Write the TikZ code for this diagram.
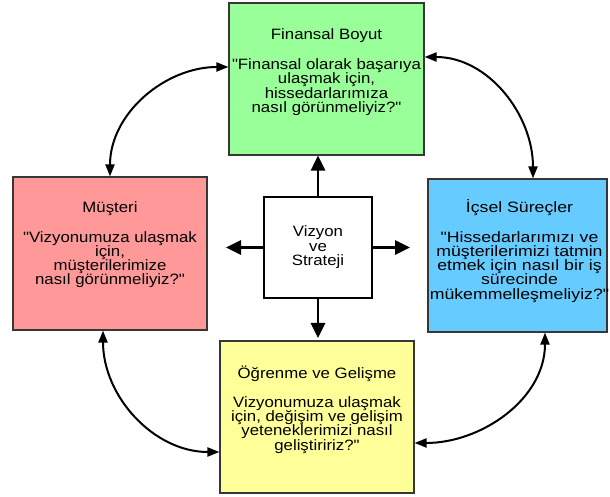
\documentclass[tikz,border=0pt]{standalone}
\usepackage{fontspec}
\setmainfont{Liberation Sans}[FakeStretch=1.12,Ligatures=TeXOff]
\newfontfamily\widefont{Liberation Sans}[FakeStretch=1.18,Ligatures=TeXOff]
\usetikzlibrary{arrows.meta,calc}
\definecolor{fingreen}{RGB}{153,255,153}
\definecolor{muspink}{RGB}{255,153,153}
\definecolor{icsblue}{RGB}{102,204,255}
\definecolor{ogryellow}{RGB}{255,255,153}
\definecolor{edgegray}{RGB}{55,55,55}
\newcommand{\tstrut}{\rule{0pt}{14pt}}
\begin{document}
\begin{tikzpicture}[x=1pt,y=1pt,
  panel/.style={draw=edgegray, line width=1.1pt, inner sep=0pt},
  paneltext/.style={anchor=north, inner sep=0pt, align=center, font=\fontsize{15}{14.3}\selectfont},
  bigarrow/.style={line width=2.7pt, -{Triangle[length=15pt,width=14pt]}},
  curvearrow/.style={line width=2pt, {Triangle[length=12pt,width=9pt]}-{Triangle[length=12pt,width=9pt]}}
]
\useasboundingbox (0,0) rectangle (610,497);
\node[panel, fill=fingreen, minimum width=195pt, minimum height=152pt] (fin) at (326.5,418) {};
\node[panel, fill=muspink, minimum width=194pt, minimum height=153pt] (mus) at (110,243.5) {};
\node[panel, fill=icsblue, minimum width=179pt, minimum height=153pt] (ics) at (517.5,241.5) {};
\node[panel, fill=ogryellow, minimum width=194pt, minimum height=152pt] (ogr) at (317,80) {};
\node[draw=black, line width=2pt, fill=white, minimum width=108pt, minimum height=101pt,
      align=center, inner sep=0pt, font=\fontsize{15}{14.5}\selectfont] (viz) at (318,249.5) {Vizyon\\ve\\Strateji};

\node[paneltext] (fint) at ([yshift=-23pt]fin.north)
  {\tstrut Finansal Boyut\\[15.7pt]"Finansal olarak başarıya\\ulaşmak için,\\hissedarlarımıza\\nasıl görünmeliyiz?"};
\node[paneltext] (must) at ([yshift=-21.4pt]mus.north)
  {\tstrut Müşteri\\[15.7pt]"Vizyonumuza ulaşmak\\için,\\müşterilerimize\\nasıl görünmeliyiz?"};
\node[paneltext, font=\widefont\fontsize{15}{14.2}\selectfont] (icst) at ([yshift=-20pt,xshift=2pt]ics.north)
  {\tstrut İçsel Süreçler\\[15.5pt]"Hissedarlarımızı ve\\müşterilerimizi tatmin\\etmek için nasıl bir iş\\sürecinde\\mükemmelleşmeliyiz?"};
\node[paneltext] (ogrt) at ([yshift=-23.4pt]ogr.north)
  {\tstrut Öğrenme ve Gelişme\\[15pt]Vizyonumuza ulaşmak\\için, değişim ve gelişim\\yeteneklerimizi nasıl\\geliştiririz?"};

\coordinate (vizL) at ([xshift=-37pt]viz.west);
\coordinate (vizR) at ([xshift=37pt]viz.east);
\coordinate (vizD) at ([yshift=-39pt]viz.south);
\draw[bigarrow] (viz.north) -- (viz.north |- fin.south);
\draw[bigarrow] (viz.west) -- (vizL);
\draw[bigarrow] (viz.east) -- (vizR);
\draw[bigarrow] (viz.south) -- (vizD);

\draw[curvearrow] ([yshift=12pt]fin.west) to[out=180,in=90] (mus.north);
\draw[curvearrow] ([yshift=22pt]fin.east) to[out=0,in=90] ([xshift=15.5pt]ics.north);
\draw[curvearrow] ([xshift=-7pt]mus.south) to[out=-90,in=180] ([yshift=-35pt]ogr.west);
\draw[curvearrow] ([xshift=27.5pt]ics.south) to[out=-90,in=0] ([yshift=-26pt]ogr.east);
\end{tikzpicture}
\end{document}
